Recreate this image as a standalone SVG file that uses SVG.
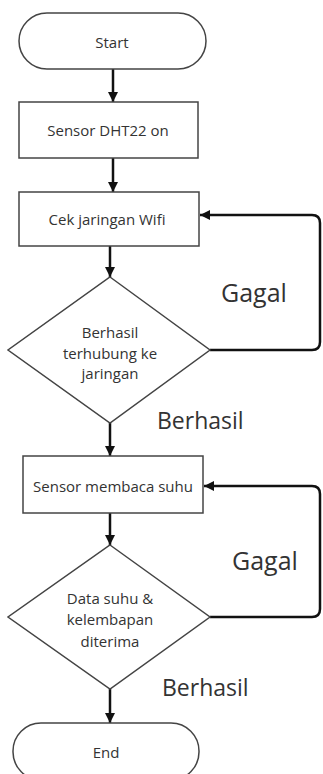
<svg xmlns="http://www.w3.org/2000/svg" width="323" height="774" viewBox="0 0 323 774">
<style>
.box{fill:#fff;stroke:#444;stroke-width:1.5}
.t{font-family:"Open Sans","Noto Sans",sans-serif;font-size:15px;fill:#333;text-anchor:middle;dominant-baseline:central}
.lbl{font-family:"Open Sans","Noto Sans",sans-serif;fill:#333;dominant-baseline:central}
.c{fill:none;stroke:#111;stroke-width:2.5}
</style>
<defs>
<marker id="ah" markerUnits="userSpaceOnUse" markerWidth="10" markerHeight="10" refX="10" refY="5" orient="auto">
<path d="M0,0 L10,5 L0,10 z" fill="#111"/>
</marker>
</defs>
<rect width="323" height="774" fill="#fff"/>
<g id="connectors">
<path class="c" d="M113 69 V102" marker-end="url(#ah)"/>
<path class="c" d="M113 158 V192" marker-end="url(#ah)"/>
<path class="c" d="M110 246 V277" marker-end="url(#ah)"/>
<path class="c" d="M110 423 V456" marker-end="url(#ah)"/>
<path class="c" d="M110 513 V545" marker-end="url(#ah)"/>
<path class="c" d="M110 689 V723" marker-end="url(#ah)"/>
<path class="c" d="M210 350 H312 Q320 350 320 342 V223 Q320 215 312 215 H200" marker-end="url(#ah)"/>
<path class="c" d="M210 617 H312 Q320 617 320 609 V494 Q320 486 312 486 H204" marker-end="url(#ah)"/>
<text class="lbl" x="221" y="292" font-size="25">Gagal</text>
<text class="lbl" x="157" y="420" font-size="23">Berhasil</text>
<text class="lbl" x="232" y="560" font-size="25">Gagal</text>
<text class="lbl" x="162" y="687" font-size="23">Berhasil</text>
</g>
<g id="start">
<rect class="box" x="19" y="13" width="187" height="56" rx="28"/>
<text class="t" x="112" y="42">Start</text>
</g>
<g id="sensor-on">
<rect class="box" x="19" y="102" width="179" height="56"/>
<text class="t" x="108" y="130">Sensor DHT22 on</text>
</g>
<g id="cek-wifi">
<rect class="box" x="19" y="192" width="180" height="54"/>
<text class="t" x="107" y="219">Cek jaringan Wifi</text>
</g>
<g id="decision-wifi">
<polygon class="box" points="110,277 210,350 110,423 8,350"/>
<text class="t" x="110" y="332">Berhasil</text>
<text class="t" x="110" y="353">terhubung ke</text>
<text class="t" x="110" y="373">jaringan</text>
</g>
<g id="sensor-baca">
<rect class="box" x="23" y="456" width="180" height="57"/>
<text class="t" x="113" y="486">Sensor membaca suhu</text>
</g>
<g id="decision-data">
<polygon class="box" points="110,545 210,617 110,689 8,617"/>
<text class="t" x="110" y="598">Data suhu &amp;</text>
<text class="t" x="110" y="619">kelembapan</text>
<text class="t" x="110" y="641">diterima</text>
</g>
<g id="end">
<rect class="box" x="13" y="723" width="186" height="57" rx="28"/>
<text class="t" x="106" y="752">End</text>
</g>
</svg>
